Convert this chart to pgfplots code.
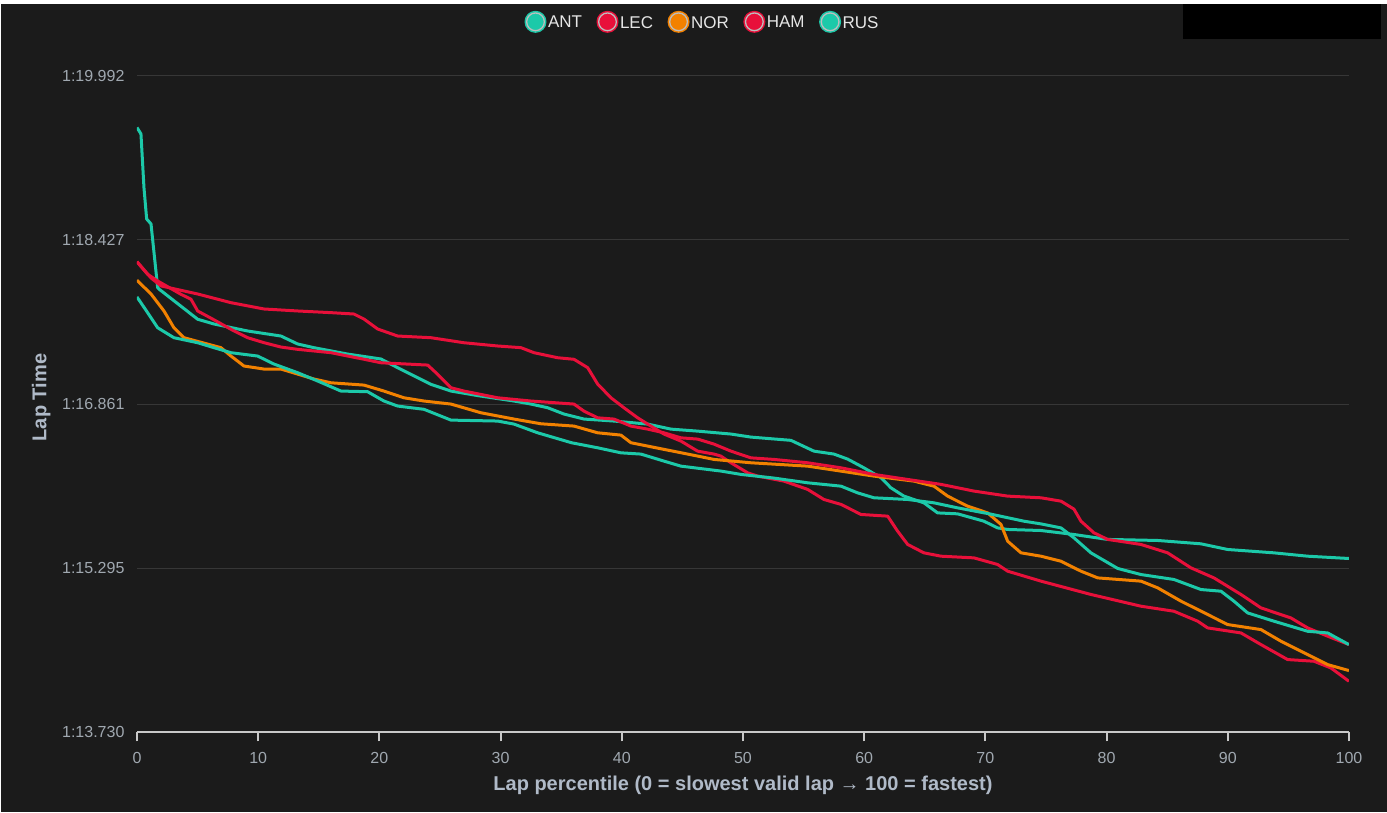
\documentclass[border=0pt]{standalone}
\usepackage{fontspec}
\setmainfont{Liberation Sans}
\usepackage{pgfplots}
\pgfplotsset{compat=1.18}
\definecolor{bg}{RGB}{27,27,27}
\definecolor{gridc}{RGB}{55,55,55}
\definecolor{axisc}{RGB}{200,200,200}
\definecolor{tickc}{RGB}{160,168,176}
\definecolor{labc}{RGB}{176,186,200}
\definecolor{legc}{RGB}{230,230,230}
\definecolor{cyanF}{RGB}{28,201,169}
\definecolor{redF}{RGB}{232,16,58}
\definecolor{orangeF}{RGB}{242,129,0}
\begin{document}
\begin{tikzpicture}[x=1pt,y=1pt]
\useasboundingbox (0,0) rectangle (1387,812);
\fill[bg] (0,0) rectangle (1387,812);
\fill[white] (0,808) rectangle (1387,812);
\fill[white] (0,0) rectangle (1.2,812);
\fill[black] (1183,773) rectangle (1381,808);
\begin{axis}[
  at={(113,76)}, anchor=south west,
  scale only axis, width=1212pt, height=656.5pt,
  xmin=0, xmax=100, ymin=73.730, ymax=79.992,
  axis x line*=bottom, axis y line*=left, separate axis lines,
  x axis line style={-, draw=axisc, line width=2pt},
  y axis line style={draw=none},
  tick align=outside, major tick length=9pt,
  xtick={0,10,...,100},
  xtick style={draw=axisc, line width=2pt},
  ytick style={draw=none},
  ytick={73.730,75.295,76.861,78.427,79.992},
  yticklabels={1:13.730,1:15.295,1:16.861,1:18.427,1:19.992},
  ymajorgrids, grid style={draw=gridc, line width=1pt},
  /pgf/number format/assume math mode=true,
  ticklabel style={font=\fontsize{16}{19}\selectfont, text=tickc},
  xticklabel style={yshift=-7.7pt},
  xlabel={Lap percentile (0 = slowest valid lap → 100 = fastest)},
  ylabel={Lap Time},
  label style={font=\bfseries\fontsize{20}{24}\selectfont, text=labc},
  xlabel style={at={(axis description cs:0.5,-0.0885)}, anchor=base},
  ylabel style={at={(axis description cs:-0.0747,0.51)}, anchor=base},
  legend columns=5,
  legend style={draw=none, fill=none, at={(axis description cs:0.4658,1.08225)}, anchor=center,
    font=\fontsize{17}{20}\selectfont, text=legc, nodes={inner sep=0pt},
    /tikz/every odd column/.append style={column sep=1.5pt},
    /tikz/every even column/.append style={column sep=14.5pt}},
  legend image code/.code={\fill[#1] (9.5pt,1pt) circle (9.5pt);
    \draw[line width=1.3pt, draw=legc!80!bg] (9.5pt,1pt) circle (8.85pt);},
  every axis plot/.append style={line width=3pt, line join=round, no markers},
]
\addplot[color=cyanF] coordinates {(0,79.499)(0.33,79.438)(0.58,78.923)(0.80,78.627)(1.16,78.579)(1.71,77.971)(1.84,77.956)(3.08,77.844)(5.01,77.670)(6.35,77.625)(9.13,77.558)(11.88,77.510)(13.26,77.434)(14.60,77.399)(17.38,77.338)(20.13,77.291)(21.51,77.208)(24.26,77.049)(25.91,76.985)(28.38,76.937)(31.11,76.890)(32.51,76.861)(33.89,76.826)(35.23,76.766)(36.88,76.718)(39.36,76.699)(42.14,76.670)(44.06,76.622)(46.26,76.603)(49.01,76.575)(50.66,76.546)(53.96,76.515)(55.86,76.412)(57.51,76.384)(58.64,76.336)(59.98,76.253)(61.39,76.158)(62.21,76.062)(63.28,75.983)(64.93,75.919)(66.06,75.823)(67.71,75.814)(69.88,75.744)(71.01,75.680)(71.84,75.665)(74.59,75.655)(77.31,75.617)(80.09,75.570)(84.22,75.560)(87.79,75.528)(89.99,75.474)(93.81,75.442)(96.59,75.410)(100,75.388)};
\addlegendentry{ANT}
\addplot[color=redF] coordinates {(0,78.219)(1.16,78.064)(1.98,77.988)(5.01,77.911)(7.76,77.828)(10.48,77.768)(13.26,77.749)(16.01,77.733)(17.90,77.720)(18.73,77.672)(19.86,77.577)(21.51,77.510)(24.26,77.494)(26.98,77.446)(29.76,77.415)(31.68,77.399)(32.76,77.351)(34.71,77.303)(36.06,77.288)(37.19,77.208)(38.01,77.052)(39.11,76.921)(40.18,76.826)(41.31,76.730)(42.14,76.670)(43.48,76.575)(44.88,76.508)(46.26,76.412)(47.61,76.384)(48.18,76.365)(49.01,76.301)(50.39,76.205)(51.21,76.174)(53.38,76.126)(55.34,76.047)(56.68,75.951)(58.09,75.904)(59.74,75.808)(61.94,75.792)(62.76,75.649)(63.59,75.522)(64.93,75.442)(66.34,75.410)(69.06,75.394)(71.01,75.331)(71.84,75.267)(74.59,75.172)(78.71,75.045)(82.84,74.933)(85.56,74.885)(87.52,74.790)(88.34,74.726)(91.09,74.678)(92.74,74.567)(94.94,74.424)(97.11,74.408)(98.51,74.344)(100,74.217)};
\addlegendentry{LEC}
\addplot[color=orangeF] coordinates {(0,78.042)(1.16,77.911)(2.23,77.749)(3.05,77.589)(3.88,77.494)(6.93,77.399)(7.76,77.319)(8.83,77.224)(10.48,77.195)(11.88,77.195)(13.26,77.147)(14.60,77.100)(16.01,77.064)(18.73,77.042)(20.38,76.985)(22.03,76.921)(23.68,76.890)(25.91,76.861)(28.38,76.778)(31.11,76.718)(33.33,76.673)(36.06,76.651)(38.01,76.587)(39.93,76.565)(40.76,76.492)(43.48,76.429)(46.26,76.365)(47.61,76.333)(50.66,76.301)(55.34,76.269)(60.81,76.174)(64.11,76.126)(65.76,76.078)(66.89,75.983)(68.54,75.887)(70.19,75.823)(71.29,75.713)(71.84,75.553)(72.94,75.442)(74.59,75.410)(76.24,75.362)(77.89,75.267)(79.27,75.203)(82.84,75.172)(84.22,75.108)(86.14,74.981)(88.34,74.854)(89.99,74.758)(92.74,74.710)(94.39,74.599)(96.59,74.472)(98.24,74.376)(100,74.319)};
\addlegendentry{NOR}
\addplot[color=redF] coordinates {(0,78.219)(0.88,78.099)(1.71,78.035)(3.63,77.908)(4.46,77.861)(5.01,77.749)(6.27,77.670)(7.76,77.574)(9.13,77.494)(10.50,77.446)(11.88,77.405)(13.26,77.383)(16.01,77.351)(18.75,77.288)(20.13,77.255)(23.99,77.233)(24.81,77.145)(25.91,77.017)(26.98,76.985)(29.76,76.921)(32.51,76.890)(36.06,76.861)(36.88,76.794)(38.01,76.730)(39.36,76.718)(40.76,76.651)(42.14,76.622)(43.48,76.587)(44.88,76.539)(46.26,76.527)(47.61,76.479)(49.01,76.412)(50.66,76.348)(52.56,76.333)(55.34,76.301)(58.09,76.253)(60.81,76.190)(63.59,76.142)(66.34,76.095)(69.06,76.031)(71.84,75.983)(74.59,75.967)(76.24,75.935)(77.31,75.859)(77.89,75.744)(78.96,75.633)(80.09,75.570)(82.84,75.522)(85.04,75.442)(86.96,75.299)(88.86,75.203)(91.09,75.045)(92.74,74.917)(95.21,74.821)(96.59,74.726)(98.24,74.647)(100,74.567)};
\addlegendentry{HAM}
\addplot[color=cyanF] coordinates {(0,77.883)(0.88,77.733)(1.71,77.589)(3.05,77.494)(5.01,77.446)(6.35,77.399)(7.76,77.351)(9.96,77.319)(11.30,77.243)(13.26,77.160)(14.91,77.081)(16.83,76.985)(19.03,76.979)(20.38,76.890)(21.51,76.842)(23.68,76.811)(25.91,76.708)(29.76,76.699)(31.11,76.670)(33.06,76.587)(35.86,76.492)(38.01,76.444)(39.93,76.396)(41.58,76.384)(43.48,76.317)(44.88,76.269)(48.18,76.222)(49.83,76.190)(52.56,76.155)(55.34,76.110)(58.09,76.078)(59.46,76.014)(60.81,75.967)(63.59,75.951)(65.76,75.919)(67.71,75.871)(70.46,75.811)(73.18,75.744)(74.59,75.718)(76.24,75.680)(77.31,75.585)(78.71,75.442)(80.92,75.293)(82.84,75.235)(85.56,75.188)(87.79,75.092)(89.44,75.076)(90.51,74.981)(91.64,74.869)(93.81,74.790)(96.59,74.694)(98.24,74.678)(100,74.567)};
\addlegendentry{RUS}
\end{axis}
\end{tikzpicture}
\end{document}
